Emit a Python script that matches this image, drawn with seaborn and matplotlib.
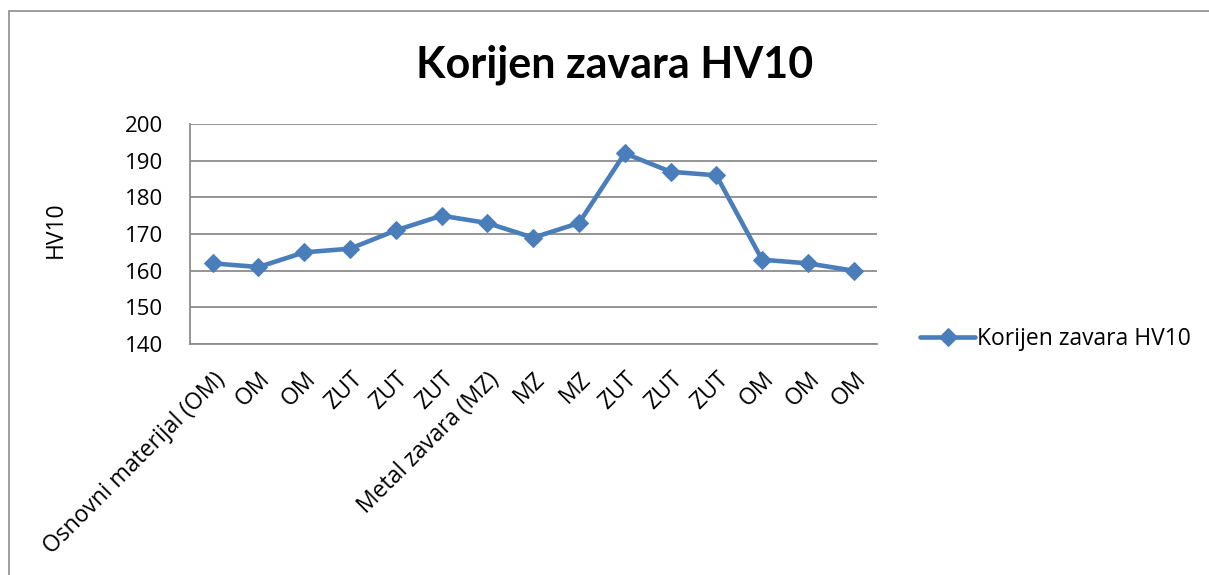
import matplotlib
matplotlib.use("Agg")
import matplotlib.pyplot as plt
from matplotlib.patches import Rectangle
import seaborn as sns
import pandas as pd

# Measurement locations across the weld root and their hardness values
locations = ["Osnovni materijal (OM)", "OM", "OM", "ZUT", "ZUT", "ZUT",
             "Metal zavara (MZ)", "MZ", "MZ", "ZUT", "ZUT", "ZUT", "OM", "OM", "OM"]
hv10 = [162, 161, 165, 166, 171, 175, 173, 169, 173, 192, 187, 186, 163, 162, 160]
y_ticks = [140, 150, 160, 170, 180, 190, 200]
series_name = "Korijen zavara HV10"

sns.set_theme(style="white")
plt.rcParams["font.family"] = ["Open Sans", "DejaVu Sans"]
plt.rcParams.update({"text.color": "black", "axes.labelcolor": "black",
                     "xtick.color": "black", "ytick.color": "black"})

df = pd.DataFrame({"pos": range(len(hv10)), "HV10": hv10})

fig = plt.figure(figsize=(12.09, 5.75), dpi=100)
ax = fig.add_axes([0.157, 0.4017, 0.568, 0.3826])

color = "#4A7EBB"
sns.lineplot(data=df, x="pos", y="HV10", ax=ax, color=color, linewidth=3.3,
             marker="D", markersize=9.5, markeredgecolor=color,
             label=series_name, legend=False)

fs = 16.5
ax.set_xlim(-0.5, len(hv10) - 0.5)
ax.set_ylim(140, 200)
ax.set_yticks(y_ticks)
ax.set_yticklabels([str(v) for v in y_ticks], fontsize=fs - 0.5)
ax.set_xticks(range(len(locations)))
ax.set_xticklabels(locations, rotation=45, ha="right", rotation_mode="anchor",
                   fontsize=fs)
ax.tick_params(axis="x", pad=17, length=0, colors="black")
ax.tick_params(axis="y", pad=19, length=0, colors="black")
ax.set_xlabel("")
ax.set_ylabel("HV10", fontsize=fs, color="black")
ax.yaxis.set_label_coords(-0.178, 0.52)

ax.grid(axis="y", color="#8c8c8c", linewidth=1.3)
ax.set_axisbelow(True)
for side in ("top", "right"):
    ax.spines[side].set_visible(False)
for side in ("left", "bottom"):
    ax.spines[side].set_color("#8c8c8c")
    ax.spines[side].set_linewidth(1.3)

fig.text(0.508, 0.866, series_name, ha="center", va="baseline", color="black",
         fontsize=31, fontweight="bold", family=["Lato", "DejaVu Sans"])

handles, labels = ax.get_legend_handles_labels()
fig.legend(handles, labels, loc="center left", bbox_to_anchor=(0.744, 0.41),
           frameon=False, fontsize=fs, handlelength=2.4, handletextpad=0.1,
           labelcolor="black")

# Chart border
fig.patches.append(Rectangle((0.0074, -0.1), 1.1, 1.081, transform=fig.transFigure,
                             fill=False, edgecolor="#8c8c8c", linewidth=1.2))

fig.savefig("out.png", dpi=100)
